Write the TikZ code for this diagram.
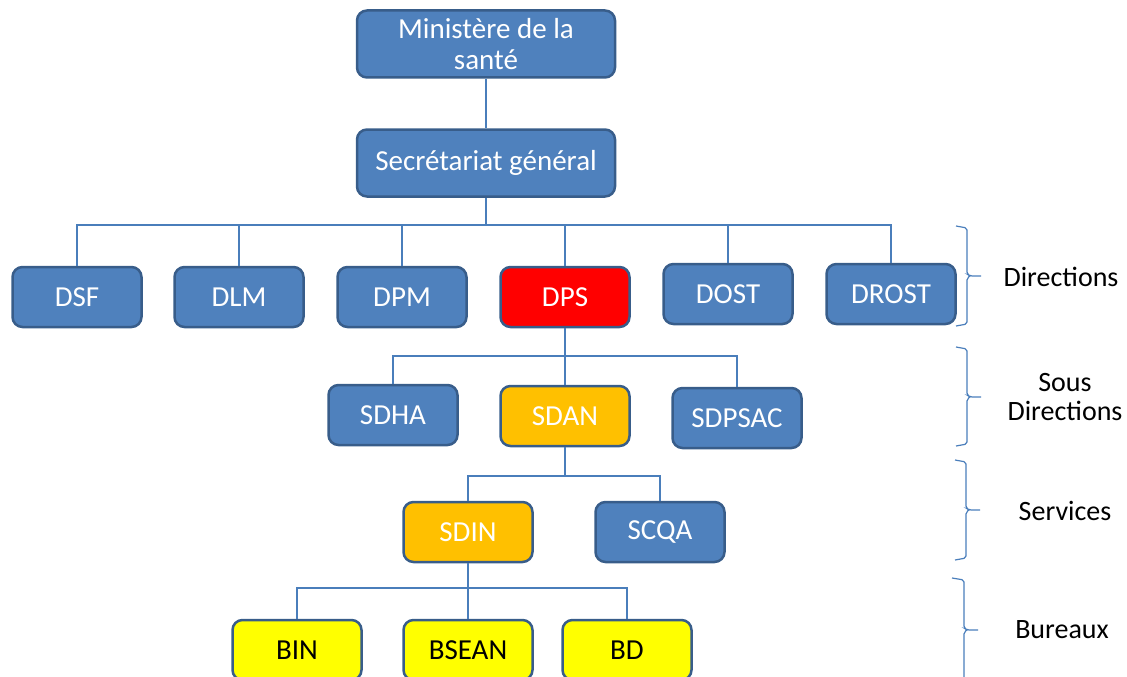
\documentclass[tikz,border=0pt]{standalone}
\usepackage{fontspec}
\setmainfont{Carlito}
\definecolor{boxblue}{HTML}{4F81BD}
\definecolor{boxedge}{HTML}{385D8A}
\definecolor{boxred}{HTML}{FF0000}
\definecolor{boxorange}{HTML}{FFC000}
\definecolor{boxyellow}{HTML}{FFFF00}
\definecolor{linkblue}{HTML}{4A7EBB}
\begin{document}
\begin{tikzpicture}[x=1pt,y=-1pt,
  orgbox/.style={draw=boxedge, line width=2.5pt, fill=boxblue, rounded corners=10pt,
     minimum width=129pt, minimum height=60pt, text=white, align=center,
     font=\fontsize{29}{31}\selectfont, inner sep=2pt},
  bigbox/.style={orgbox, minimum width=258pt, minimum height=67pt},
  redbox/.style={orgbox, fill=boxred},
  orangebox/.style={orgbox, fill=boxorange},
  yellowbox/.style={orgbox, fill=boxyellow, text=black},
  link/.style={draw=linkblue, line width=1.4pt},
  brk/.style={draw=linkblue, line width=1.2pt, rounded corners=2pt},
  lvl/.style={font=\fontsize{28}{29}\selectfont, align=center, text=black}]
\useasboundingbox (0,0) rectangle (1127,677);

% top levels
\node[bigbox] (min) at (486,44) {Ministère de la\\santé};
\node[bigbox] (sg) at (486,163) {Secrétariat général};

% directions
\node[orgbox] (dsf) at (77,297) {DSF};
\node[orgbox] (dlm) at (239,297) {DLM};
\node[orgbox] (dpm) at (402,297) {DPM};
\node[redbox] (dps) at (565,297) {DPS};
\node[orgbox] (dost) at (728,294) {DOST};
\node[orgbox] (drost) at (891,294) {DROST};

% sous directions
\node[orgbox] (sdha) at (393,415) {SDHA};
\node[orangebox] (sdan) at (565,416) {SDAN};
\node[orgbox] (sdpsac) at (737,418) {SDPSAC};

% services
\node[orangebox] (sdin) at (468,532) {SDIN};
\node[orgbox] (scqa) at (660,532) {SCQA};

% bureaux
\node[yellowbox] (bin) at (297,650) {BIN};
\node[yellowbox] (bsean) at (468,650) {BSEAN};
\node[yellowbox] (bd) at (627,650) {BD};

% bus coordinates
\coordinate (bus1) at (486,225);
\coordinate (bus2) at (565,356);
\coordinate (bus3) at (565,476);
\coordinate (bus4) at (468,588);

% connectors
\draw[link] (min.south) -- (sg.north);
\draw[link] (sg.south) -- (bus1);
\draw[link] (dsf.north) |- (bus1);
\draw[link] (drost.north) |- (bus1);
\draw[link] (dlm.north) -- (dlm.north |- bus1);
\draw[link] (dpm.north) -- (dpm.north |- bus1);
\draw[link] (dps.north) -- (dps.north |- bus1);
\draw[link] (dost.north) -- (dost.north |- bus1);

\draw[link] (dps.south) -- (bus2);
\draw[link] (sdha.north) |- (bus2);
\draw[link] (sdpsac.north) |- (bus2);
\draw[link] (sdan.north) -- (bus2);

\draw[link] (sdan.south) -- (bus3);
\draw[link] (sdin.north) |- (bus3);
\draw[link] (scqa.north) |- (bus3);

\draw[link] (sdin.south) -- (bus4);
\draw[link] (bin.north) |- (bus4);
\draw[link] (bd.north) |- (bus4);
\draw[link] (bsean.north) -- (bus4);

% braces
\draw[brk] (956,226) -- (967,228) -- (967,274) -- (970,276) -- (981,276);
\draw[brk] (970,276) -- (967,278) -- (967,324) -- (956,326);
\draw[brk] (956,347) -- (967,349) -- (967,395) -- (970,397) -- (981,397);
\draw[brk] (970,397) -- (967,399) -- (967,444) -- (956,446);
\draw[brk] (955,460) -- (966,462) -- (966,508) -- (969,510) -- (980,510);
\draw[brk] (969,510) -- (966,512) -- (966,558) -- (955,560);
\draw[brk] (952,578) -- (964,580) -- (964,628) -- (967,630) -- (978,630);
\draw[brk] (967,630) -- (964,632) -- (964,690);

% level labels
\node[lvl] (l1) at (1061,277) {Directions};
\node[lvl] (l2) at (1065,397) {Sous\\Directions};
\node[lvl] (l3) at (1065,511) {Services};
\node[lvl] (l4) at (1062,630) {Bureaux};
\end{tikzpicture}
\end{document}
